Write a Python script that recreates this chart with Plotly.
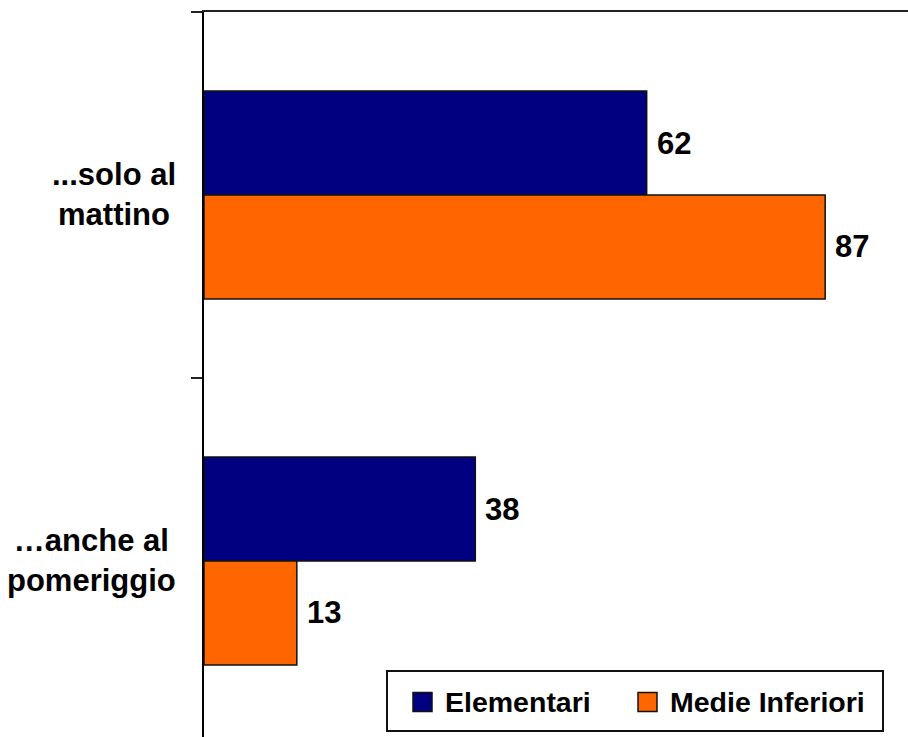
import plotly.graph_objects as go

# Categories (top to bottom) and percentage values per school level
categories = ["...solo al<br>mattino", "…anche al<br>pomeriggio"]
elementari = [62, 38]
medie_inferiori = [87, 13]

series_names = ["Elementari", "Medie Inferiori"]
series_colors = ["#000080", "#FF6600"]
series_values = [elementari, medie_inferiori]

FONT = "Liberation Sans, Arial, sans-serif"
BAR_HALF = 0.142  # half of one bar's thickness in category units

W, H = 908, 737
ML, MT = 204, 12
PW, PH = W - ML, H - MT


def px(x):
    """pixel x -> paper x"""
    return (x - ML) / PW


def py(y):
    """pixel y -> paper y"""
    return 1 - (y - MT) / PH


fig = go.Figure()

for name, color, vals in zip(series_names, series_colors, series_values):
    fig.add_trace(go.Bar(
        y=list(range(len(categories))),
        x=vals,
        orientation="h",
        name=name,
        marker=dict(color=color, line=dict(color="#111111", width=1.5)),
        showlegend=False,
        hoverinfo="skip",
    ))

# value labels just beyond the bar ends
annotations = []
for k, vals in enumerate(series_values):
    offset = -BAR_HALF if k == 0 else BAR_HALF
    for i, v in enumerate(vals):
        annotations.append(dict(
            x=v, y=i + offset, xref="x", yref="y",
            text="<b>%d</b>" % v, showarrow=False, xanchor="left",
            yanchor="middle", xshift=8,
            font=dict(family=FONT, size=31, color="black"),
        ))

# category labels, centred lines, right-aligned block next to the axis
for i, c in enumerate(categories):
    annotations.append(dict(
        x=px(178), y=i, xref="paper", yref="y",
        text="<b>" + c + "</b>", showarrow=False, xanchor="right",
        yanchor="middle", align="center",
        font=dict(family=FONT, size=31, color="black"),
    ))

# legend box drawn in the lower right corner of the plot
shapes = [dict(
    type="rect", xref="paper", yref="paper",
    x0=px(387), x1=px(883), y0=py(731), y1=py(671),
    line=dict(color="#111111", width=2), fillcolor="white", layer="above",
)]
swatch_left = [413, 638]
text_left = [443, 668]
cy = 702
for name, color, sx, tx in zip(series_names, series_colors, swatch_left, text_left):
    shapes.append(dict(
        type="rect", xref="paper", yref="paper",
        x0=px(sx), x1=px(sx + 19), y0=py(cy + 9.5), y1=py(cy - 9.5),
        line=dict(color="#111111", width=1.5), fillcolor=color, layer="above",
    ))
    annotations.append(dict(
        x=px(tx), y=py(cy), xref="paper", yref="paper",
        text="<b>" + name + "</b>", showarrow=False, xanchor="left",
        yanchor="middle", font=dict(family=FONT, size=28.5, color="black"),
    ))

fig.update_layout(
    width=W, height=H,
    margin=dict(l=ML, r=0, t=MT, b=0),
    plot_bgcolor="white", paper_bgcolor="white",
    barmode="group", bargap=0.432, bargroupgap=0,
    font=dict(family=FONT, color="black"),
    showlegend=False,
    annotations=annotations,
    shapes=shapes,
    xaxis=dict(
        range=[0, 98.6], side="top", showline=True, linecolor="#222222",
        linewidth=2, showgrid=False, zeroline=False, showticklabels=False,
        ticks="",
    ),
    yaxis=dict(
        range=[1.481, -0.5], tickmode="array", tickvals=[-0.5, 0.5, 1.5],
        ticktext=["", "", ""], ticks="outside", ticklen=11, tickwidth=2,
        tickcolor="#222222", showline=True, linecolor="black", linewidth=2,
        showgrid=False, zeroline=False,
    ),
)

fig.write_html("out.html")
